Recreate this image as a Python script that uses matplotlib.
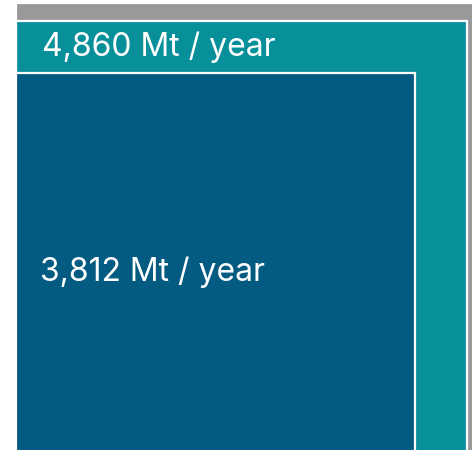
import matplotlib.pyplot as plt
from matplotlib.patches import Rectangle
import numpy as np

# Nested squares, side ~ sqrt(value), all anchored at the bottom-left corner
values = [5260, 4860, 3812]          # outer (grey, cut off), teal, dark blue
labels = ['', '4,860 Mt / year', '3,812 Mt / year']
colors = ['#999999', '#08909a', '#045b82']

plt.rcParams['font.family'] = ['Inter', 'DejaVu Sans']

fig = plt.figure(figsize=(4.72, 4.5), dpi=100)
ax = fig.add_axes([0, 0, 1, 1])

sides = np.sqrt(values)
for s, c in zip(sides, colors):
    ax.add_patch(Rectangle((0, 0), s, s, facecolor=c, edgecolor='white', linewidth=1.6))

# teal label sits in the band above the dark blue square
ax.text(4.0, (sides[1] + sides[2]) / 2, labels[1], color='white', fontsize=23,
        va='center', ha='left')
# dark blue label vertically centred in its square
ax.text(3.7, sides[2] / 2, labels[2], color='white', fontsize=23,
        va='center', ha='left')

ax.set_xlim(-2.47, 70.49)
ax.set_ylim(3.40, 72.96)
ax.axis('off')

plt.savefig('out.png', dpi=100)
